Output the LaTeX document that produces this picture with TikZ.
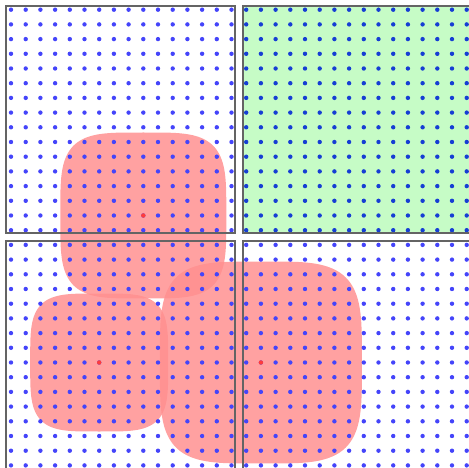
\documentclass[tikz,border=0pt]{standalone}
\definecolor{dotblue}{RGB}{68,68,250}
\definecolor{dotdark}{RGB}{22,62,212}
\definecolor{gridgreen}{RGB}{198,252,198}
\definecolor{blobred}{RGB}{255,143,143}
\definecolor{centerred}{RGB}{255,60,60}
\definecolor{edgegray}{RGB}{100,100,100}
\tikzset{
  blob/.style={fill=blobred,opacity=0.84},
  griddot/.style={fill=dotblue},
  darkdot/.style={fill=dotdark},
  centerdot/.style={fill=centerred},
  frame/.style={draw=edgegray,line width=2pt}
}
\newcommand\myblob[3]{%
  \fill[blob] plot[domain=0:360,samples=241,variable=\t]
    ({#1+#3*sign(cos(\t))*sqrt(abs(cos(\t)))},{#2+#3*sign(sin(\t))*sqrt(abs(sin(\t)))}) -- cycle;}
\begin{document}
\begin{tikzpicture}[x=1pt,y=-1pt]
\useasboundingbox (0,0) rectangle (469,468);
\fill[gridgreen] (242.7,5.7) rectangle (472,233.3);
% blobs
\myblob{143.3}{215.5}{83}
\myblob{99.2}{362.5}{69}
\myblob{260.9}{362.5}{101}
% dots
\foreach \i in {0,...,31}{
  \foreach \j in {0,...,31}{
    \pgfmathsetmacro\px{11+14.7*\i}
    \pgfmathsetmacro\py{9.7+14.7*\j}
    \pgfmathparse{(\i>15 && \j<16) ? 1 : 0}
    \ifnum\pgfmathresult=1
      \fill[darkdot] (\px,\py) circle[radius=2.2];
    \else
      \fill[griddot] (\px,\py) circle[radius=2.2];
    \fi
  }
}
% centers
\fill[centerdot] (143.3,215.5) circle[radius=2.2];
\fill[centerdot] (99.2,362.5) circle[radius=2.2];
\fill[centerdot] (260.9,362.5) circle[radius=2.2];
% frames
\draw[frame] (6.3,5.7) rectangle (235,233.3);
\draw[frame] (242.7,5.7) rectangle (472,233.3);
\draw[frame] (6.3,241) rectangle (235,471);
\draw[frame] (242.7,241) rectangle (472,471);
\end{tikzpicture}
\end{document}
